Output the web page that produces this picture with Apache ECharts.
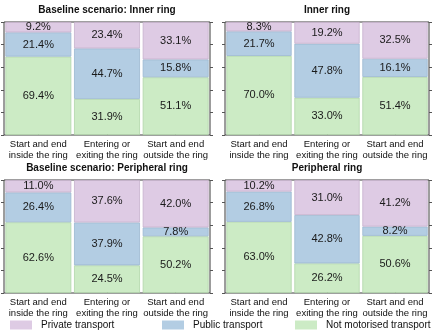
<!DOCTYPE html>
<html>
<head>
    <meta charset="utf-8"/>
    <title>Modal split by ring</title>
    <script src="https://cdn.jsdelivr.net/npm/echarts@6/dist/echarts.min.js"></script>
    <style>
        html, body { margin: 0; padding: 0; background: #fff; }
        #chart { width: 436px; height: 334px; }
    </style>
</head>
<body>
<div id="chart"></div>
<script>
// categories and panels
var categories = ['Start and end\ninside the ring', 'Entering or\nexiting the ring', 'Start and end\noutside the ring'];
var panelTitles = ['Baseline scenario: Inner ring', 'Inner ring', 'Baseline scenario: Peripheral ring', 'Peripheral ring'];
var seriesNames = ['Private transport', 'Public transport', 'Not motorised transport'];

// shares (%) per panel, in category order
var privateShare  = [[9.2, 23.4, 33.1], [8.3, 19.2, 32.5], [11.0, 37.6, 42.0], [10.2, 31.0, 41.2]];
var publicShare   = [[21.4, 44.7, 15.8], [21.7, 47.8, 16.1], [26.4, 37.9, 7.8], [26.8, 42.8, 8.2]];
var nonMotorShare = [[69.4, 31.9, 51.1], [70.0, 33.0, 51.4], [62.6, 24.5, 50.2], [63.0, 26.2, 50.6]];

var fills   = { 'Private transport': '#decbe4', 'Public transport': '#b3cde3', 'Not motorised transport': '#ccebc5' };
var borders = { 'Private transport': '#c7b1cd', 'Public transport': '#9bb7d1', 'Not motorised transport': '#b1d6a9' };

var boxes = [
    { left: 4,   top: 22,  width: 206, height: 113 },
    { left: 225, top: 22,  width: 204, height: 113 },
    { left: 4,   top: 180, width: 206, height: 113 },
    { left: 225, top: 180, width: 204, height: 113 }
];

var font = 'Liberation Sans, Arial, sans-serif';

var grids = [], xAxes = [], yAxes = [], series = [], titles = [];

boxes.forEach(function (b, i) {
    grids.push({
        left: b.left, top: b.top, width: b.width, height: b.height,
        show: true, borderColor: '#3a3a3a', borderWidth: 1, backgroundColor: 'transparent'
    });
    titles.push({
        text: panelTitles[i],
        left: b.left + b.width / 2, top: b.top - 17,
        textAlign: 'center', padding: 0,
        textStyle: { fontFamily: font, fontSize: 10, fontWeight: 'bold', color: '#111' }
    });
    xAxes.push({
        type: 'category', gridIndex: i, data: categories,
        axisLine: { show: false },
        axisTick: { show: true, inside: true, alignWithLabel: true, length: 3, lineStyle: { color: '#555' } },
        axisLabel: { fontFamily: font, fontSize: 9.5, color: '#111', lineHeight: 11, margin: 4, interval: 0 }
    });
    ['left', 'right'].forEach(function (pos) {
        yAxes.push({
            type: 'value', gridIndex: i, position: pos, min: 0, max: 100, interval: 20,
            axisLine: { show: false },
            axisTick: { show: true, length: 3, lineStyle: { color: '#555' } },
            axisLabel: { show: false },
            splitLine: { show: false }
        });
    });

    // stack from bottom: not motorised, public, private
    var rows = [nonMotorShare[i], publicShare[i], privateShare[i]];
    var names = [seriesNames[2], seriesNames[1], seriesNames[0]];
    rows.forEach(function (vals, k) {
        series.push({
            name: names[k], type: 'bar', stack: 'p' + i,
            xAxisIndex: i, yAxisIndex: i * 2,
            data: vals,
            barCategoryGap: '4%',
            itemStyle: { color: fills[names[k]], borderColor: borders[names[k]], borderWidth: 0.8 },
            label: {
                show: true, position: 'inside',
                fontFamily: font, fontSize: 11, color: '#1a1a1a',
                formatter: function (p) { return p.value.toFixed(1) + '%'; }
            },
            emphasis: { disabled: true }
        });
    });
});

var legendBase = {
    bottom: 4, padding: 0, itemWidth: 22, itemHeight: 9,
    textStyle: { fontFamily: font, fontSize: 10, color: '#111', padding: [0, 0, 0, 4] },
    itemStyle: { borderWidth: 0 },
    icon: 'rect', selectedMode: false
};
var legends = [
    Object.assign({ data: [seriesNames[0]], left: 10 }, legendBase),
    Object.assign({ data: [seriesNames[1]], left: 162 }, legendBase),
    Object.assign({ data: [seriesNames[2]], left: 295 }, legendBase)
];

var chart = echarts.init(document.getElementById('chart'), null, { renderer: 'canvas' });
chart.setOption({
    animation: false,
    backgroundColor: '#fff',
    title: titles,
    legend: legends,
    grid: grids,
    xAxis: xAxes,
    yAxis: yAxes,
    series: series
});
</script>
</body>
</html>
